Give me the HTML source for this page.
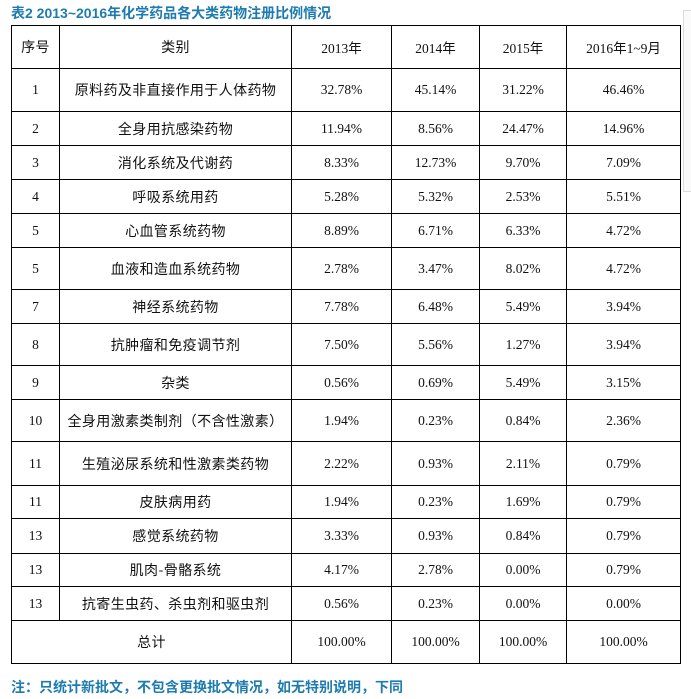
<!DOCTYPE html>
<html><head><meta charset="utf-8"><style>
body{margin:0;width:691px;height:699px;background:#fff;position:relative;overflow:hidden;font-family:"Liberation Serif","Noto Sans CJK SC",serif;}
.t{position:absolute;left:11px;top:3px;font:bold 14px "Liberation Sans","Noto Sans CJK SC",sans-serif;color:#1e7bb0;white-space:nowrap}
.f{position:absolute;left:11px;top:677px;font:bold 14px "Liberation Sans","Noto Sans CJK SC",sans-serif;color:#1e7bb0;white-space:nowrap}
table{position:absolute;left:11px;top:25px;border-collapse:collapse;table-layout:fixed;width:669px}
td{border:1.5px solid #000;text-align:center;padding:0;font-size:13.5px;color:#111;white-space:nowrap}
td.c{font-family:"Noto Sans CJK SC",sans-serif;font-size:14px;letter-spacing:0.4px}
.sb{position:absolute;left:683px;top:10px;width:8px;height:180px;border:1px solid #ddd;border-right:none;background:#fafafa}
</style></head><body>
<div class="t">表2 2013~2016年化学药品各大类药物注册比例情况</div>
<div class="sb"></div>
<table>
<colgroup><col style="width:48px"><col style="width:232px"><col style="width:100px"><col style="width:88px"><col style="width:87px"><col style="width:114px"></colgroup>
<tr style="height:43px"><td class="c">序号</td><td class="c">类别</td><td>2013年</td><td>2014年</td><td>2015年</td><td>2016年1~9月</td></tr>
<tr style="height:43px"><td>1</td><td class="c">原料药及非直接作用于人体药物</td><td>32.78%</td><td>45.14%</td><td>31.22%</td><td>46.46%</td></tr>
<tr style="height:34px"><td>2</td><td class="c">全身用抗感染药物</td><td>11.94%</td><td>8.56%</td><td>24.47%</td><td>14.96%</td></tr>
<tr style="height:34px"><td>3</td><td class="c">消化系统及代谢药</td><td>8.33%</td><td>12.73%</td><td>9.70%</td><td>7.09%</td></tr>
<tr style="height:34px"><td>4</td><td class="c">呼吸系统用药</td><td>5.28%</td><td>5.32%</td><td>2.53%</td><td>5.51%</td></tr>
<tr style="height:34px"><td>5</td><td class="c">心血管系统药物</td><td>8.89%</td><td>6.71%</td><td>6.33%</td><td>4.72%</td></tr>
<tr style="height:42px"><td>5</td><td class="c">血液和造血系统药物</td><td>2.78%</td><td>3.47%</td><td>8.02%</td><td>4.72%</td></tr>
<tr style="height:34px"><td>7</td><td class="c">神经系统药物</td><td>7.78%</td><td>6.48%</td><td>5.49%</td><td>3.94%</td></tr>
<tr style="height:42px"><td>8</td><td class="c">抗肿瘤和免疫调节剂</td><td>7.50%</td><td>5.56%</td><td>1.27%</td><td>3.94%</td></tr>
<tr style="height:34px"><td>9</td><td class="c">杂类</td><td>0.56%</td><td>0.69%</td><td>5.49%</td><td>3.15%</td></tr>
<tr style="height:42px"><td>10</td><td class="c">全身用激素类制剂（不含性激素）</td><td>1.94%</td><td>0.23%</td><td>0.84%</td><td>2.36%</td></tr>
<tr style="height:44px"><td>11</td><td class="c">生殖泌尿系统和性激素类药物</td><td>2.22%</td><td>0.93%</td><td>2.11%</td><td>0.79%</td></tr>
<tr style="height:33px"><td>11</td><td class="c">皮肤病用药</td><td>1.94%</td><td>0.23%</td><td>1.69%</td><td>0.79%</td></tr>
<tr style="height:35px"><td>13</td><td class="c">感觉系统药物</td><td>3.33%</td><td>0.93%</td><td>0.84%</td><td>0.79%</td></tr>
<tr style="height:33px"><td>13</td><td class="c">肌肉-骨骼系统</td><td>4.17%</td><td>2.78%</td><td>0.00%</td><td>0.79%</td></tr>
<tr style="height:34px"><td>13</td><td class="c">抗寄生虫药、杀虫剂和驱虫剂</td><td>0.56%</td><td>0.23%</td><td>0.00%</td><td>0.00%</td></tr>
<tr style="height:43px"><td colspan="2" class="c">总计</td><td>100.00%</td><td>100.00%</td><td>100.00%</td><td>100.00%</td></tr>
</table>
<div class="f">注：只统计新批文，不包含更换批文情况，如无特别说明，下同</div>
</body></html>
